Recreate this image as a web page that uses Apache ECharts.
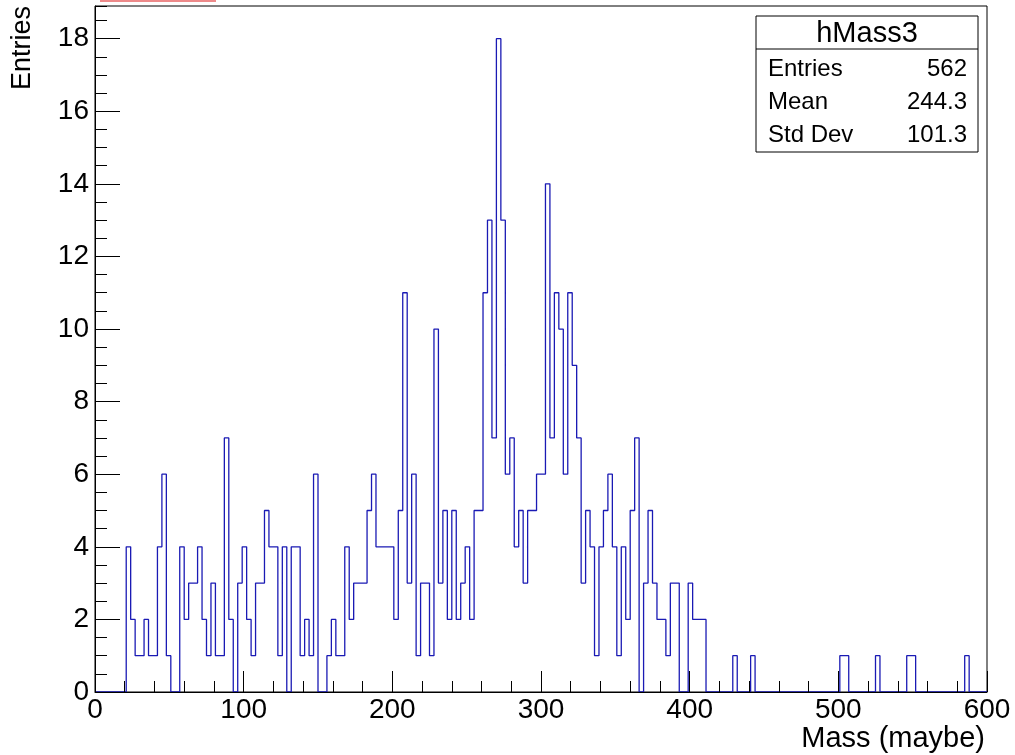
<!DOCTYPE html>
<html>
<head>
<meta charset="UTF-8">
<title>hMass3</title>
<script type="text/javascript" src="https://cdn.jsdelivr.net/npm/echarts@6/dist/echarts.min.js"></script>
<style>
html,body{margin:0;padding:0;background:#fff;}
</style>
</head>
<body>
<div id="main" style="width:1015px;height:755px;"></div>

<script type="text/javascript">
// histogram: 200 bins of width 3 from 0 to 600
var xMin = 0;
var binWidth = 3;
var counts = [
  0,0,0,0,0,0,0,4,2,1,
  1,2,1,1,4,6,1,0,0,4,
  2,3,3,4,2,1,3,1,1,7,
  2,0,3,4,2,1,3,3,5,4,
  4,1,4,0,4,4,1,2,1,6,
  0,0,1,2,1,1,4,2,3,3,
  3,5,6,4,4,4,4,2,5,11,
  3,6,1,3,3,1,10,3,5,2,
  5,2,3,4,2,5,5,11,13,7,
  18,13,6,7,4,5,3,5,5,6,
  6,14,7,11,10,6,11,9,7,3,
  5,4,1,4,5,6,4,1,4,2,
  5,7,0,3,5,3,2,2,1,3,
  3,0,0,3,2,2,2,0,0,0,
  0,0,0,1,0,0,0,1,0,0,
  0,0,0,0,0,0,0,0,0,0,
  0,0,0,0,0,0,0,1,1,0,
  0,0,0,0,0,1,0,0,0,0,
  0,0,1,1,0,0,0,0,0,0,
  0,0,0,0,0,1,0,0,0,0
];

// axis ticks
var xTicks = [0, 100, 200, 300, 400, 500, 600];
var yTicks = [0, 2, 4, 6, 8, 10, 12, 14, 16, 18];
var yMax = 18.9;

// stats box
var statTitle = 'hMass3';
var statNames = ['Entries', 'Mean', 'Std Dev'];
var statValues = ['562', '244.3', '101.3'];

// outline of the histogram, one flat step per bin
var outline = [];
for (var i = 0; i < counts.length; i++) {
  var lo = xMin + i * binWidth;
  outline.push([lo, counts[i]]);
  outline.push([lo + binWidth, counts[i]]);
}

var FONT = '"Liberation Sans", Arial, sans-serif';
var gridL = 95, gridR = 987, gridT = 6, gridB = 692;

var mychart = echarts.init(document.getElementById('main'));

// stat box graphics
var box = {x: 756, y: 16, w: 222, h: 136, sep: 49};
var rowY = [69, 102, 135];
var graphics = [
  {type: 'rect', shape: {x: 100, y: 0, width: 116, height: 2}, style: {fill: '#ee8a8a'}},
  {type: 'rect', shape: {x: box.x, y: box.y, width: box.w, height: box.h},
   style: {fill: '#fff', stroke: '#000', lineWidth: 1}, z: 100},
  {type: 'line', shape: {x1: box.x, y1: box.sep, x2: box.x + box.w, y2: box.sep},
   style: {stroke: '#000', lineWidth: 1}, z: 101},
  {type: 'text', x: box.x + box.w / 2, y: (box.y + box.sep) / 2 + 1, z: 101,
   style: {text: statTitle, font: '29px ' + FONT, fill: '#000', textAlign: 'center', textVerticalAlign: 'middle'}},
  {type: 'text', x: 23, y: 48, rotation: Math.PI / 2, z: 101,
   style: {text: 'Entries', font: '27px ' + FONT, fill: '#000', textAlign: 'center', textVerticalAlign: 'middle'}},
  {type: 'text', x: 985, y: 739, z: 101,
   style: {text: 'Mass (maybe)', font: '29px ' + FONT, fill: '#000', textAlign: 'right', textVerticalAlign: 'middle'}}
];
for (var r = 0; r < statNames.length; r++) {
  graphics.push({type: 'text', x: box.x + 12, y: rowY[r], z: 101,
    style: {text: statNames[r], font: '24px ' + FONT, fill: '#000', textAlign: 'left', textVerticalAlign: 'middle'}});
  graphics.push({type: 'text', x: box.x + box.w - 11, y: rowY[r], z: 101,
    style: {text: statValues[r], font: '24px ' + FONT, fill: '#000', textAlign: 'right', textVerticalAlign: 'middle'}});
}

var option = {
  animation: false,
  backgroundColor: '#fff',
  grid: {
    left: gridL, right: 1015 - gridR, top: gridT, bottom: 755 - gridB,
    show: true, borderColor: '#000', borderWidth: 1, backgroundColor: 'transparent'
  },
  xAxis: {
    type: 'value', min: xTicks[0], max: xTicks[xTicks.length - 1], interval: 100,
    z: 10,
    axisLine: {show: true, onZero: false, lineStyle: {color: '#000', width: 1}},
    axisTick: {show: true, inside: true, length: 21, lineStyle: {color: '#000'}},
    minorTick: {show: true, splitNumber: 5, length: 11, lineStyle: {color: '#000'}},
    splitLine: {show: false},
    axisLabel: {color: '#000', fontSize: 28, fontFamily: FONT, margin: 4,
      showMinLabel: true, showMaxLabel: true}
  },
  yAxis: [
    {
      type: 'value', min: 0, max: yMax, interval: 2,
      z: 10,
      axisLine: {show: true, onZero: false, lineStyle: {color: '#000', width: 1}},
      axisTick: {show: true, inside: true, length: 25, lineStyle: {color: '#000'}},
      splitLine: {show: false},
      axisLabel: {color: '#000', fontSize: 28, fontFamily: FONT, margin: 6,
        showMaxLabel: false,
        formatter: function (v) { return yTicks.indexOf(v) >= 0 ? String(v) : ''; }}
    },
    {
      type: 'value', min: 0, max: yMax, interval: 0.5, position: 'left',
      z: 10,
      axisLine: {show: false},
      axisTick: {show: true, inside: true, length: 12, lineStyle: {color: '#000'}},
      splitLine: {show: false},
      axisLabel: {show: false}
    }
  ],
  series: [{
    name: 'hMass3',
    type: 'line',
    data: outline,
    showSymbol: false,
    symbol: 'none',
    clip: true,
    lineStyle: {color: '#1a1ab4', width: 1.3},
    z: 2
  }],
  graphic: graphics
};

mychart.setOption(option);
</script>
</body>
</html>
